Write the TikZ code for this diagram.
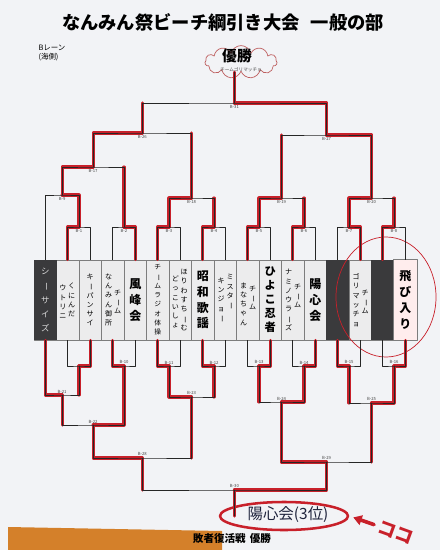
\documentclass[tikz,border=0pt]{standalone}
\usepackage{fontspec}
\setmainfont{Noto Sans CJK JP}
\usetikzlibrary{calc,shapes.symbols,shapes.geometric,arrows.meta}
\definecolor{paper}{RGB}{242,243,246}
\definecolor{marker}{RGB}{200,32,42}
\definecolor{inkgray}{RGB}{70,70,70}
\definecolor{edgegray}{RGB}{125,125,125}
\definecolor{stripfill}{RGB}{236,236,237}
\definecolor{darkstrip}{RGB}{58,58,60}
\definecolor{cloudred}{RGB}{190,95,95}
\definecolor{penblue}{RGB}{30,35,60}
\definecolor{floorwood}{RGB}{212,128,42}
\tikzset{
  brk/.style={draw=black!85, line width=0.6pt},
  win/.style={draw=marker, line width=2.2pt},
  lbl/.style={font=\fontsize{3}{3.5}\selectfont, text=inkgray, inner sep=1.2pt},
  strip/.style={draw=edgegray, fill=stripfill, line width=0.6pt, minimum width=0.5625cm, minimum height=2cm, inner sep=0pt},
  tate/.style={align=center, inner sep=0pt, font=\fontsize{5}{6.6}\selectfont},
  tatebig/.style={align=center, inner sep=0pt, font=\bfseries\fontsize{8.5}{11.2}\selectfont}
}
\newcommand{\chou}{\rotatebox[origin=c]{-90}{ー}}

\begin{document}
\begin{tikzpicture}[x=0.025cm, y=-0.025cm, line cap=round, line join=round]
\useasboundingbox (0,0) rectangle (440,550);
\fill[paper] (0,0) rectangle (440,550);
\fill[floorwood] (8,527) -- (222,531) -- (222,550) -- (8,550) -- cycle;

% title
\node[font=\bfseries\fontsize{13}{15}\selectfont] (title) at (223,22) {なんみん祭ビーチ綱引き大会\hspace{0.6em}一般の部};
\node[font=\fontsize{5.3}{6.5}\selectfont, align=left] (lane) at (52,53) {Bレーン\\(海側)};

% team strips
\foreach \i in {1,...,17}
  \node[strip] (s\i) at (22.5*\i+22.75,300) {};
\foreach \i in {1,14,16}
  \fill[darkstrip] (s\i.north west) rectangle (s\i.south east);
\fill[white!93!red] (s17.north west) rectangle (s17.south east);
\draw[edgegray, line width=0.6pt] (s17.north west) rectangle (s17.south east);

% team names
\node[tate, text=white!85!black, font=\fontsize{6}{10}\selectfont] (n1) at (s1) {シ\\\chou\\サ\\イ\\ズ};
\node[tate] (n2a) at ([xshift=0.1cm]s2) {く\\に\\ん\\だ};
\node[tate] (n2b) at ([xshift=-0.12cm,yshift=-0.05cm]s2) {ウ\\ト\\リ\\ニ};
\node[tate] (n3) at (s3) {キ\\\chou\\パ\\ン\\サ\\イ};
\node[tate] (n4a) at ([xshift=0.12cm,yshift=-0.05cm]s4) {チ\\\chou\\ム};
\node[tate] (n4b) at ([xshift=-0.1cm]s4) {な\\ん\\み\\ん\\御\\所};
\node[tatebig] (n5) at (s5) {風\\峰\\会};
\node[tate, font=\fontsize{4.8}{6.6}\selectfont] (n6) at (s6) {チ\\\chou\\ム\\ラ\\ジ\\オ\\体\\操};
\node[tate] (n7a) at ([xshift=0.1cm]s7) {ほ\\り\\わ\\す\\ち\\\chou\\む};
\node[tate] (n7b) at ([xshift=-0.12cm,yshift=-0.05cm]s7) {ど\\っ\\こ\\い\\し\\ょ};
\node[tatebig] (n8) at (s8) {昭\\和\\歌\\謡};
\node[tate] (n9a) at ([xshift=0.12cm,yshift=0.2cm]s9) {ミ\\ス\\タ\\\chou};
\node[tate] (n9b) at ([xshift=-0.1cm]s9) {キ\\ン\\ジ\\ョ\\\chou};
\node[tate] (n10a) at ([xshift=0.12cm,yshift=0.05cm]s10) {チ\\\chou\\ム};
\node[tate] (n10b) at ([xshift=-0.1cm,yshift=-0.1cm]s10) {ま\\な\\ち\\ゃ\\ん};
\node[tatebig, font=\bfseries\fontsize{8}{10}\selectfont] (n11) at (s11) {ひ\\よ\\こ\\忍\\者};
\node[tate] (n12a) at ([xshift=0.12cm,yshift=0.1cm]s12) {チ\\\chou\\ム};
\node[tate] (n12b) at ([xshift=-0.1cm]s12) {ナ\\ミ\\ノ\\ウ\\ラ\\\chou\\ズ};
\node[tatebig] (n13) at (s13) {陽\\心\\会};
\node[tate] (n15a) at ([xshift=0.12cm,yshift=-0.05cm]s15) {チ\\\chou\\ム};
\node[tate] (n15b) at ([xshift=-0.1cm]s15) {ゴ\\リ\\マ\\ッ\\チ\\ョ};
\node[tatebig] (n17) at (s17) {飛\\び\\入\\り};

% hand drawn circle
\draw[marker, line width=0.5pt] (386,297) ellipse [x radius=1.25cm, y radius=1.5cm];

% winner cloud and 3rd place
\node[cloud, draw=cloudred, line width=0.5pt, cloud puffs=11, cloud ignores aspect, minimum width=1.8cm, minimum height=0.82cm, inner sep=0pt] (cup) at (241,62) {};
\node[font=\bfseries\fontsize{10.5}{12}\selectfont] (champ) at (237,56) {優勝};
\node[font=\fontsize{3.3}{4}\selectfont, text=inkgray] (champname) at (241,70) {チームゴリマッチョ};
\node[ellipse, draw=marker, line width=1.8pt, minimum width=3.2cm, minimum height=0.7cm, inner sep=0pt] (third) at (284,516) {};
\node[font=\fontsize{11}{12}\selectfont, text=penblue] (thirdname) at (288,515) {陽心会(3位)};
\node[font=\bfseries\fontsize{7.5}{9}\selectfont] (sub) at (232,539) {敗者復活戦\hspace{0.4em}優勝};

% brackets: name/left/right/height/winner(0=left)/loser stem plain/label
\def\topmatches{B1/s2.north/s3.north/227/0/1/B-1, B2/s4.north/s5.north/227/1/1/B-2,
  B3/s6.north/s7.north/227/0/1/B-3, B4/s8.north/s9.north/227/0/1/B-4,
  B5/s10.north/s11.north/227/0/1/B-5, B6/s12.north/s13.north/227/0/1/B-6,
  B7/s14.north/s15.north/227/1/1/B-7, B8/s16.north/s17.north/227/0/1/B-8,
  B9/s1.north/B1/195/1/1/B-9, B17/B9/B2/167/0/0/B-17, B18/B3/B4/198/0/0/B-18,
  B19/B5/B6/198/0/0/B-19, B20/B7/B8/198/0/0/B-20, B26/B17/B18/133/0/0/B-26,
  B27/B19/B20/135/1/0/B-27, B31/B26/B27/103/1/0/B-31}
\def\botmatches{L0/s2.south/s3.south/366/1/1/{}, B10/s4.south/s5.south/366/0/1/B-10,
  B11/s6.south/s7.south/366/0/1/B-11, B12/s8.south/s9.south/366/0/1/B-12,
  B13/s10.south/s11.south/366/1/1/B-13, B14/s12.south/s13.south/366/1/1/B-14,
  B15/s14.south/s15.south/366/0/1/B-15, B16/s16.south/s17.south/366/1/1/B-16,
  B21/s1.south/L0/395/0/0/B-21, B22/B21/B10/425/1/0/B-22, B23/B11/B12/397/0/0/B-23,
  B24/B13/B14/402/1/0/B-24, B25/B15/B16/403/1/0/B-25, B28/B22/B23/458/0/0/B-28,
  B29/B24/B25/462/0/0/B-29, B30/B28/B29/490/1/0/B-30}

% red marker along the winners
\foreach \m/\a/\b/\h/\w/\f/\t in \topmatches {
  \path ($(\a)!0.5!(\b)$) coordinate (tmp);
  \coordinate (\m) at (tmp |- 0,\h);
  \ifnum\w=0
    \draw[win] (\a) |- (\m);
    \ifnum\f=0 \draw[win] (\b) -- (\b |- \m); \fi
  \else
    \draw[win] (\b) |- (\m);
    \ifnum\f=0 \draw[win] (\a) -- (\a |- \m); \fi
  \fi
}
\foreach \m/\a/\b/\h/\w/\f/\t in \botmatches {
  \path ($(\a)!0.5!(\b)$) coordinate (tmp);
  \coordinate (\m) at (tmp |- 0,\h);
  \ifnum\w=0
    \draw[win] (\a) |- (\m);
    \ifnum\f=0 \draw[win] (\b) -- (\b |- \m); \fi
  \else
    \draw[win] (\b) |- (\m);
    \ifnum\f=0 \draw[win] (\a) -- (\a |- \m); \fi
  \fi
}
\draw[win] (B31) -- (B31 |- cup.south);
\draw[win] (B30) -- (B30 |- third);

% printed bracket lines
\foreach \m/\a/\b/\h/\w/\f/\t in \topmatches {
  \draw[brk] (\a) |- (\m) -| (\b);
  \node[lbl, anchor=north] (l\m) at (\m) {\t};
}
\foreach \m/\a/\b/\h/\w/\f/\t in \botmatches {
  \draw[brk] (\a) |- (\m) -| (\b);
  \node[lbl, anchor=south] (l\m) at (\m) {\t};
}
\draw[brk] (B31) -- (B31 |- cup.south);
\draw[brk] (B30) -- (B30 |- third);

% pointer
\node[font=\bfseries\fontsize{13}{14}\selectfont, text=marker, rotate=-20, anchor=west, inner sep=0pt] (koko) at (378,526) {ココ};
\draw[marker, line width=2.6pt, -{Triangle[length=6pt,width=7pt]}, shorten <=3pt, shorten >=3pt] (koko.west) -- (third.east);

\end{tikzpicture}
\end{document}
